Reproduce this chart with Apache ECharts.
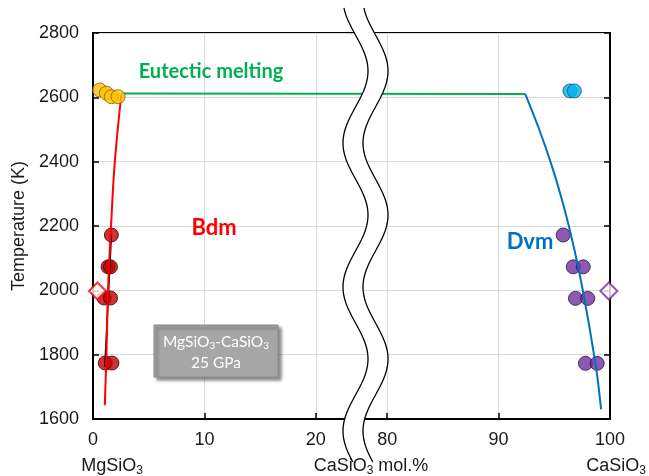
<!DOCTYPE html>
<html><head><meta charset="utf-8">
<script src="https://cdn.jsdelivr.net/npm/echarts@6/dist/echarts.min.js"></script>
<style>html,body{margin:0;padding:0;background:#fff}#c{width:649px;height:476px}</style>
</head><body><div id="c"></div>
<script>
// ---- data (composition in CaSiO3 mol.%, temperature in K) ----
const xTickLabels = [0, 10, 20, 80, 90, 100];
const yMin = 1600, yMax = 2800, yStep = 200;

const orangeX = [0.6, 1.2, 1.65, 2.25];
const orangeT = [2623, 2613, 2602, 2602];

const redPtX = [1.65, 1.35, 1.57, 1.0, 1.57, 1.1, 1.7];
const redPtT = [2172, 2073, 2073, 1976, 1976, 1774, 1774];

const redDiamondX = [0.4];
const redDiamondT = [1998];

const blackLineX = [1.65, 1.06];
const blackLineT = [2172, 1762];

const redCurveX = [1.06, 1.21, 1.35, 1.65, 1.95, 2.54];
const redCurveT = [1643, 1805, 2001, 2219, 2396, 2608];

const eutecticX = [2.54, 92.4];
const eutecticT = [2612, 2610];

const blueCurveX = [92.4, 93.65, 94.75, 95.7, 96.5, 97.2, 97.8, 98.35, 98.85, 99.2];
const blueCurveT = [2610, 2500, 2390, 2280, 2172, 2063, 1955, 1845, 1735, 1630];

const bluePtX = [96.4, 96.8];
const bluePtT = [2620, 2620];

const purplePtX = [95.8, 96.7, 97.6, 96.9, 98.0, 97.8, 98.85];
const purplePtT = [2172, 2073, 2073, 1975, 1975, 1773, 1773];

const purpleDiamondX = [99.9];
const purpleDiamondT = [1998];

// ---- broken axis mapping ----
const SHIFT = 53.6; // right segment offset
const toV = x => (x > 50 ? x - SHIFT : x);
const fromV = v => (v > 23 ? v + SHIFT : v);
const pts = (xs, ts) => xs.map((x, i) => [toV(x), ts[i]]);
const tickV = xTickLabels.map(toV);

const chart = echarts.init(document.getElementById('c'), null, {renderer: 'canvas'});

function wave(off) {
  const p = [];
  for (let y = 8; y <= 462; y += 2) {
    p.push([355.5 + off - 12.5 * Math.cos(2 * Math.PI * (y + 1) / 144), y]);
  }
  return p;
}
const wl = wave(0), wr = wave(20);

const FONT = 'Liberation Sans';
const CAL = 'Lato';
const subRich = (fs, sfs, lh) => ({
  a: {fontFamily: FONT, fontSize: fs, fill: '#1a1a1a', lineHeight: lh},
  s: {fontFamily: FONT, fontSize: sfs, fill: '#1a1a1a', lineHeight: sfs, verticalAlign: 'bottom'}
});

const option = {
  animation: false,
  backgroundColor: '#fff',
  grid: {left: 93, right: 39, top: 33, bottom: 57, show: true, borderColor: '#000', borderWidth: 2, backgroundColor: 'transparent'},
  xAxis: {
    type: 'value', min: 0, max: toV(100),
    axisLine: {show: true, lineStyle: {color: '#000', width: 2}},
    axisTick: {show: true, inside: true, length: 6, customValues: tickV, lineStyle: {color: '#000', width: 1.5}},
    axisLabel: {customValues: tickV, margin: 12, fontFamily: FONT, fontSize: 18, color: '#1a1a1a',
      formatter: v => String(Math.round(fromV(v)))},
    splitLine: {show: true, lineStyle: {color: '#d9d9d9', width: 1}}
  },
  yAxis: [{
    type: 'value', min: yMin, max: yMax, interval: yStep,
    name: 'Temperature (K)', nameLocation: 'middle', nameGap: 60,
    nameTextStyle: {fontFamily: FONT, fontSize: 18, color: '#1a1a1a'},
    axisLine: {show: true, lineStyle: {color: '#000', width: 2}},
    axisTick: {show: true, inside: true, length: 6, lineStyle: {color: '#000', width: 1.5}},
    axisLabel: {margin: 14, fontFamily: FONT, fontSize: 18, color: '#1a1a1a', formatter: v => String(v)},
    splitLine: {show: true, lineStyle: {color: '#d9d9d9', width: 1}}
  }, {
    type: 'value', min: yMin, max: yMax, interval: yStep, position: 'right',
    axisLine: {show: true, lineStyle: {color: '#000', width: 2}},
    axisTick: {show: true, inside: true, length: 6, lineStyle: {color: '#000', width: 1.5}},
    axisLabel: {show: false}, splitLine: {show: false}
  }],
  series: [
    {type: 'scatter', data: pts(redPtX, redPtT), symbolSize: 14, z: 2,
      itemStyle: {color: '#C00000', borderColor: '#3a0000', borderWidth: 1}},
    {type: 'scatter', data: pts(purplePtX, purplePtT), symbolSize: 14, z: 2,
      itemStyle: {color: '#7030A0', borderColor: '#2a0f40', borderWidth: 1}},
    {type: 'scatter', data: pts(redDiamondX, redDiamondT), symbol: 'diamond', symbolSize: [17, 17], z: 2,
      itemStyle: {color: '#fff', borderColor: '#FF0000', borderWidth: 2}},
    {type: 'scatter', data: pts(purpleDiamondX, purpleDiamondT), symbol: 'diamond', symbolSize: [17, 17], z: 2,
      itemStyle: {color: '#fff', borderColor: '#7030A0', borderWidth: 2}},
    {type: 'line', data: pts(blackLineX, blackLineT), symbol: 'none', z: 3,
      lineStyle: {color: '#000', width: 1.5}},
    {type: 'line', data: pts(redCurveX, redCurveT), symbol: 'none', smooth: 0.4, z: 3,
      lineStyle: {color: '#FF0000', width: 2}},
    {type: 'line', data: pts(eutecticX, eutecticT), symbol: 'none', z: 3,
      lineStyle: {color: '#00B050', width: 2}},
    {type: 'line', data: pts(blueCurveX, blueCurveT), symbol: 'none', smooth: 0.3, z: 3,
      lineStyle: {color: '#0070C0', width: 2}},
    {type: 'scatter', data: pts(orangeX, orangeT), symbolSize: 14, z: 4,
      itemStyle: {color: '#FFC000', borderColor: '#7f6000', borderWidth: 1}},
    {type: 'scatter', data: pts(bluePtX, bluePtT), symbolSize: 14, z: 4,
      itemStyle: {color: '#00B0F0', borderColor: '#1f4e79', borderWidth: 1}}
  ],
  graphic: [
    {type: 'polygon', z: 100, shape: {points: wl.concat(wr.slice().reverse())}, style: {fill: '#fff', stroke: null}},
    {type: 'polyline', z: 101, shape: {points: wl}, style: {stroke: '#000', lineWidth: 1.3, fill: null}},
    {type: 'polyline', z: 101, shape: {points: wr}, style: {stroke: '#000', lineWidth: 1.3, fill: null}},
    {type: 'text', z: 102, x: 211, y: 72, style: {text: 'Eutectic melting', fill: '#00B050', font: 'bold 20px ' + CAL, align: 'center', verticalAlign: 'middle'}},
    {type: 'text', z: 102, x: 214, y: 228, style: {text: 'Bdm', fill: '#FF0000', font: 'bold 22px ' + CAL, align: 'center', verticalAlign: 'middle'}},
    {type: 'text', z: 102, x: 530, y: 242, style: {text: 'Dvm', fill: '#0070C0', font: 'bold 22px ' + CAL, align: 'center', verticalAlign: 'middle'}},
    {type: 'rect', z: 102, shape: {x: 154, y: 325, width: 124, height: 52},
      style: {fill: '#A6A6A6', stroke: '#8a8a8a', lineWidth: 1, shadowBlur: 3, shadowOffsetX: 3, shadowOffsetY: 3, shadowColor: 'rgba(0,0,0,0.45)'}},
    {type: 'text', z: 103, x: 216, y: 342, style: {
      text: '{a|MgSiO}{s|3}{a|-CaSiO}{s|3}', align: 'center', verticalAlign: 'middle',
      rich: {a: {fontFamily: CAL, fontSize: 15.5, fill: '#fff', lineHeight: 18}, s: {fontFamily: CAL, fontSize: 10, fill: '#fff', lineHeight: 10, verticalAlign: 'bottom'}}}},
    {type: 'text', z: 103, x: 216, y: 363, style: {text: '25 GPa', fill: '#fff', font: '15.5px ' + CAL, align: 'center', verticalAlign: 'middle'}},
    {type: 'text', z: 103, x: 112, y: 466, style: {text: '{a|MgSiO}{s|3}', align: 'center', verticalAlign: 'middle', rich: subRich(18, 12, 22)}},
    {type: 'text', z: 103, x: 371, y: 466, style: {text: '{a|CaSiO}{s|3}{a| mol.%}', align: 'center', verticalAlign: 'middle', rich: subRich(18, 12, 22)}},
    {type: 'text', z: 103, x: 616, y: 466, style: {text: '{a|CaSiO}{s|3}', align: 'center', verticalAlign: 'middle', rich: subRich(18, 12, 22)}}
  ]
};
chart.setOption(option);
</script>
</body></html>
